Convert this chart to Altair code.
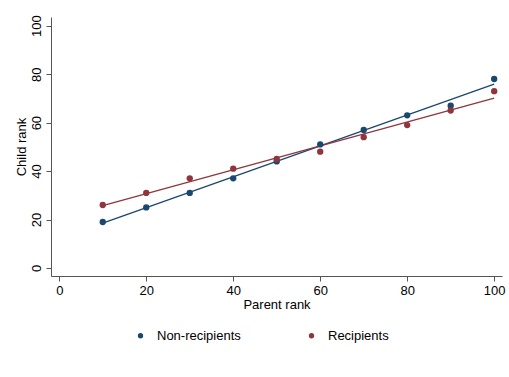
import altair as alt
import pandas as pd

# Parent income rank bins and mean child rank for each group
parent_rank = [10, 20, 30, 40, 50, 60, 70, 80, 90, 100]
non_recipients = [19, 25, 31, 37, 44, 51, 57, 63, 67, 78]
recipients = [26, 31, 37, 41, 45, 48, 54, 59, 65, 73]

groups = ["Non-recipients", "Recipients"]
colors = ["#1a476f", "#90353b"]
axis_ticks = [0, 20, 40, 60, 80, 100]

df = pd.DataFrame(
    {
        "parent": parent_rank * 2,
        "child": non_recipients + recipients,
        "group": [groups[0]] * len(parent_rank) + [groups[1]] * len(parent_rank),
    }
)

FONT = "Liberation Sans"
FONT_SIZE = 13

x_enc = alt.X(
    "parent:Q",
    scale=alt.Scale(domain=[-1.9, 101.8], nice=False, zero=False),
    axis=alt.Axis(
        title="Parent rank",
        values=axis_ticks,
        grid=False,
        tickSize=5,
        labelPadding=3,
        titlePadding=1,
    ),
)
y_enc = alt.Y(
    "child:Q",
    scale=alt.Scale(domain=[-3.3, 103.6], nice=False, zero=False),
    axis=alt.Axis(
        title="Child rank",
        values=axis_ticks,
        grid=False,
        tickSize=5,
        labelAngle=270,
        labelAlign="center",
        labelBaseline="bottom",
        labelPadding=3,
        titlePadding=2,
    ),
)
color_enc = alt.Color(
    "group:N",
    scale=alt.Scale(domain=groups, range=colors),
    legend=alt.Legend(
        title=None,
        orient="none",
        legendX=83,
        legendY=53 + 259,
        direction="horizontal",
        symbolType="circle",
        symbolSize=28,
        labelFontSize=FONT_SIZE,
        labelFont=FONT,
        labelColor="#000000",
        labelOffset=10,
        columnPadding=64,
        symbolStrokeWidth=0,
    ),
)

points = (
    alt.Chart(df)
    .mark_circle(size=40, opacity=1)
    .encode(x=x_enc, y=y_enc, color=color_enc)
)

fits = (
    alt.Chart(df)
    .transform_regression("parent", "child", groupby=["group"], extent=[10, 100])
    .mark_line(strokeWidth=1.3)
    .encode(x="parent:Q", y="child:Q", color=color_enc)
)

chart = (
    alt.layer(fits, points)
    .properties(
        width=451,
        height=259,
        autosize=alt.AutoSizeParams(type="none"),
        padding={"left": 51, "top": 17, "right": 7, "bottom": 101},
        background="white",
    )
    .configure_view(stroke=None)
    .configure_axis(
        labelFont=FONT,
        titleFont=FONT,
        labelFontSize=FONT_SIZE,
        titleFontSize=FONT_SIZE,
        titleFontWeight="normal",
        labelColor="#000000",
        titleColor="#000000",
        domainColor="#555555",
        tickColor="#555555",
        domainWidth=1,
        tickWidth=1,
    )
)

chart.save("out.html", embed_options={"renderer": "svg", "actions": False})
